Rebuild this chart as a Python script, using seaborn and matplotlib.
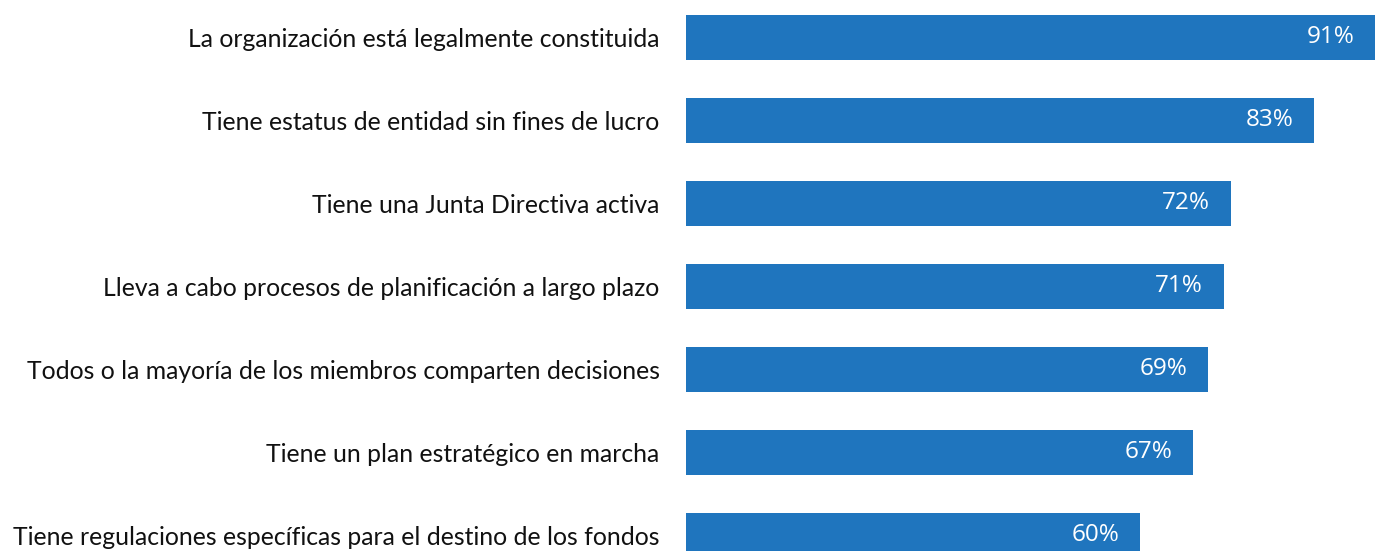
import matplotlib
matplotlib.use("Agg")
import matplotlib.pyplot as plt
import seaborn as sns
import pandas as pd

categories = [
    "La organización está legalmente constituida",
    "Tiene estatus de entidad sin fines de lucro",
    "Tiene una Junta Directiva activa",
    "Lleva a cabo procesos de planificación a largo plazo",
    "Todos o la mayoría de los miembros comparten decisiones",
    "Tiene un plan estratégico en marcha",
    "Tiene regulaciones específicas para el destino de los fondos",
]
values = [91, 83, 72, 71, 69, 67, 60]

BAR_COLOR = "#1F75BE"

sns.set_theme(style="white")
plt.rcParams["font.family"] = ["Lato", "DejaVu Sans"]

df = pd.DataFrame({"categoria": categories, "valor": values})

fig = plt.figure(figsize=(13.75, 5.51), dpi=100)
ax = fig.add_axes([0.499, 0.0, 0.501, 1.0])

sns.barplot(data=df, x="valor", y="categoria", orient="h",
            color=BAR_COLOR, saturation=1, width=0.54, linewidth=0, ax=ax)

ax.set_xlim(0, 91)
ax.set_ylim(6.19, -0.452)
ax.set_xlabel("")
ax.set_ylabel("")
ax.set_xticks([])
ax.tick_params(axis="y", length=0, pad=19, labelsize=17.8, labelcolor="#111111")
sns.despine(ax=ax, left=True, bottom=True)

# value labels inside bar ends
for i, v in enumerate(values):
    ax.annotate(f"{v}%", xy=(v, i), xytext=(-15, 0), textcoords="offset points",
                ha="right", va="center", color="white", fontsize=17.5,
                family=["Open Sans", "DejaVu Sans"])

fig.savefig("out.png", dpi=100)
